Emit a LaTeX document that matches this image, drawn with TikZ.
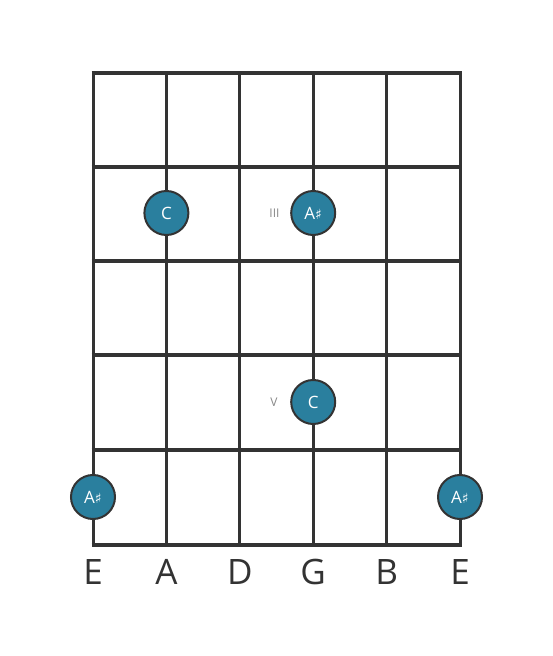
\documentclass[tikz,border=0pt]{standalone}
\usepackage{fontspec}
\setmainfont{Open Sans}
\newfontfamily\symfont{DejaVu Sans}
\definecolor{gridc}{HTML}{333333}
\definecolor{dotc}{HTML}{2A7F9E}
\definecolor{fretlbl}{HTML}{888888}
\newcommand{\shp}{{\symfont\fontsize{14}{14}\selectfont ♯}}
\begin{document}
\begin{tikzpicture}[x=1pt,y=1pt,
  fretline/.style={line width=4.5pt,draw=gridc},
  stringline/.style={line width=3pt,draw=gridc},
  notedot/.style={circle,fill=dotc,draw=gridc,line width=2pt,minimum size=44pt,inner sep=0pt,text=white,font=\fontsize{17}{17}\selectfont},
  strlbl/.style={text=gridc,font=\fontsize{35}{35}\selectfont},
  fretnum/.style={text=fretlbl,font=\fontsize{12}{12}\selectfont}]
\useasboundingbox (0,0) rectangle (553,656);
% strings
\foreach \x in {93,166.4,239.8,313.2,386.6,460}
  \draw[stringline] (\x,583) -- (\x,111);
% frets
\foreach \y in {583,489,395,301,206,111}
  \draw[fretline] (91.5,\y) -- (461.5,\y);
% dots
\node[notedot] (c1) at (166.4,443) {C};
\node[notedot] (as1) at (313.2,443) {A\shp};
\node[fretnum,anchor=east] (f3) at (283,443) {III};
\node[notedot] (c2) at (313.2,254) {C};
\node[fretnum,anchor=east] (f5) at (281,254) {V};
\node[notedot] (as2) at (93,159) {A\shp};
\node[notedot] (as3) at (460,159) {A\shp};
% string names
\node[strlbl] (s1) at (93,84) {E};
\node[strlbl] (s2) at (166.4,84) {A};
\node[strlbl] (s3) at (239.8,84) {D};
\node[strlbl] (s4) at (313.2,84) {G};
\node[strlbl] (s5) at (386.6,84) {B};
\node[strlbl] (s6) at (460,84) {E};
\end{tikzpicture}
\end{document}
